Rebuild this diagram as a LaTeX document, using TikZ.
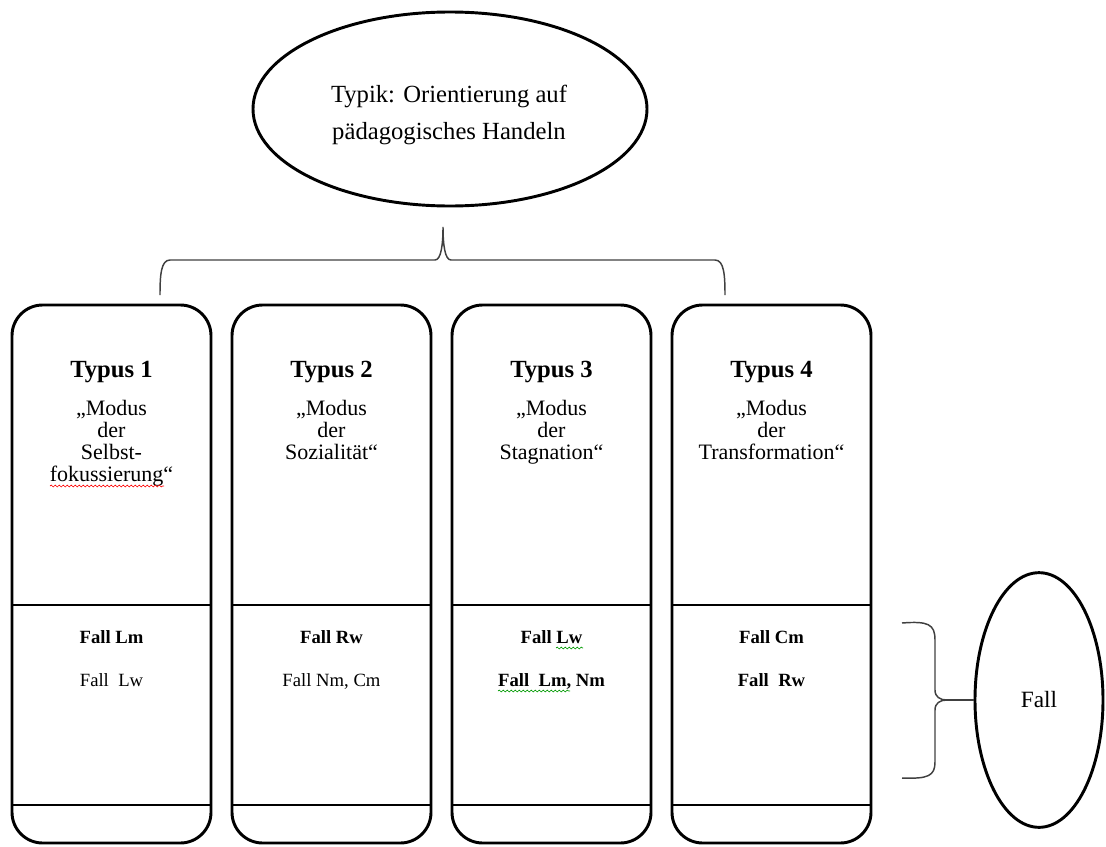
\documentclass[tikz,border=0pt]{standalone}
\usepackage{fontspec}
\setmainfont{Liberation Serif}
\usetikzlibrary{shapes.geometric,decorations.pathmorphing}
\begin{document}
\begin{tikzpicture}[x=0.75pt,y=-0.75pt,
  typbox/.style={draw, line width=2.2pt, rounded corners=23pt, minimum width=149.25pt, minimum height=403.5pt, inner sep=0pt, outer sep=0pt},
  divider/.style={line width=2.2pt},
  ell/.style={draw, ellipse, line width=2.2pt, inner sep=0pt},
  brace/.style={line width=1.1pt, black!75},
  typlabel/.style={font=\fontsize{18.5}{20}\selectfont\bfseries, anchor=base, inner sep=0pt},
  modus/.style={font=\fontsize{16.5}{16.5}\selectfont, align=center, anchor=base, inner sep=0pt},
  falltxt/.style={font=\fontsize{14}{16}\selectfont, anchor=base, inner sep=0pt},
  fallbold/.style={falltxt, font=\fontsize{14}{16}\selectfont\bfseries},
  spell/.style={decorate, decoration={snake, amplitude=0.7pt, segment length=3pt}, line width=0.5pt},
]
\useasboundingbox (0,0) rectangle (1106,846);

% top ellipse
\node[ell, minimum width=295.5pt, minimum height=145.5pt] (typik) at (450,109) {};
\node[align=center, inner sep=0pt, font=\fontsize{18.5}{27.75}\selectfont] (typiktext) at (449,115)
      {Typik: Orientierung auf\\pädagogisches Handeln};

% boxes
\foreach \i/\cx in {1/111.5, 2/331.5, 3/551.5, 4/771.5} {
  \node[typbox] (b\i) at (\cx,574) {};
}
\coordinate (d1) at (0,605);
\coordinate (d2) at (0,805);
\foreach \i in {1,2,3,4} {
  \draw[divider] (b\i.west |- d1) -- (b\i.east |- d1);
  \draw[divider] (b\i.west |- d2) -- (b\i.east |- d2);
}

% headings
\node[typlabel] (t1) at (111.5,377) {Typus 1};
\node[typlabel] (t2) at (331.5,377) {Typus 2};
\node[typlabel] (t3) at (551.5,377) {Typus 3};
\node[typlabel] (t4) at (771.5,377) {Typus 4};

% multi-line nodes: base anchor = baseline of the last line
\node[modus] (m1) at (111.5,481) {„Modus\\der\\Selbst-\\fokussierung“};
\node[modus] (m2) at (331.5,459) {„Modus\\der\\Sozialität“};
\node[modus] (m3) at (551.5,459) {„Modus\\der\\Stagnation“};
\node[modus] (m4) at (771.5,459) {„Modus\\der\\Transformation“};

% Fall texts
\node[fallbold] (f1a) at (111.5,643) {Fall Lm};
\node[falltxt]  (f1b) at (111.5,686) {Fall\ \ Lw};
\node[fallbold] (f2a) at (331.5,643) {Fall Rw};
\node[falltxt]  (f2b) at (331.5,686) {Fall Nm, Cm};
\node[fallbold] (f3a) at (551.5,643) {Fall Lw};
\node[fallbold] (f3b) at (551.5,686) {Fall\ \ Lm, Nm};
\node[fallbold] (f4a) at (771.5,643) {Fall Cm};
\node[fallbold] (f4b) at (771.5,686) {Fall\ \ Rw};

% spell-check squiggles
\coordinate (s1a) at (50,486);  \coordinate (s1b) at (164,486);
\draw[spell, red] (s1a) -- (s1b);
\coordinate (s2a) at (556,648); \coordinate (s2b) at (583,648);
\draw[spell, green!60!black] (s2a) -- (s2b);
\coordinate (s3a) at (498,691); \coordinate (s3b) at (570,691);
\draw[spell, green!60!black] (s3a) -- (s3b);

% Fall ellipse
\node[ell, minimum width=96pt, minimum height=191pt, font=\fontsize{17.5}{19}\selectfont] (fall) at (1039,700) {Fall};

% top brace
\coordinate (bl) at (160,295);
\coordinate (br) at (725,295);
\coordinate (tip) at (443,227);
\draw[brace] (bl) .. controls (160,275) and (161,260) .. (170,260) -- (435,260)
  .. controls (441,260) and (443,245) .. (tip)
  .. controls (443,245) and (445,260) .. (451,260) -- (715,260)
  .. controls (724,260) and (725,275) .. (br);

% right brace
\coordinate (rt) at (902,623);
\coordinate (rb) at (902,778);
\coordinate (rtip) at (947,700);
\draw[brace] (rt) .. controls (928,621) and (935,624) .. (935,640) -- (935,690)
  .. controls (935,697) and (940,700) .. (rtip);
\draw[brace] (rtip) .. controls (940,700) and (935,703) .. (935,710) -- (935,762)
  .. controls (935,776) and (928,779) .. (rb);
\draw[brace] (rtip) -- (fall.west);
\end{tikzpicture}
\end{document}
